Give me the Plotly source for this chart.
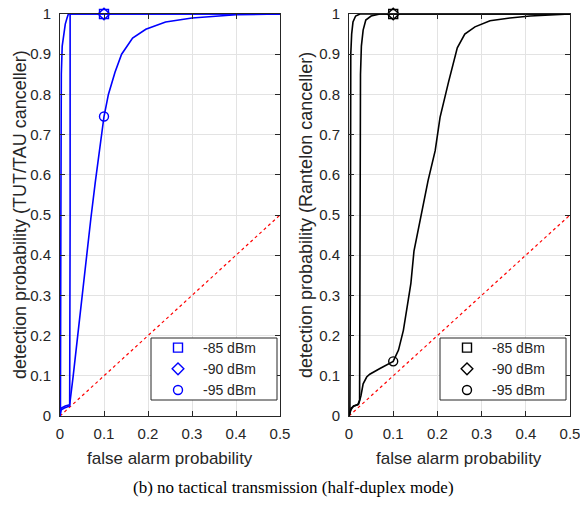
import plotly.graph_objects as go

# Left panel (TUT/TAU canceller)
left_x_85 = [0, 0.001, 0.002, 0.003, 0.005, 0.008, 0.012, 0.016, 0.019, 0.5]
left_y_85 = [0, 0.02, 0.5, 0.85, 0.92, 0.95, 0.975, 0.99, 1, 1]
left_x_90 = [0, 0.002, 0.01, 0.022, 0.023, 0.023, 0.5]
left_y_90 = [0, 0.015, 0.02, 0.025, 0.5, 1, 1]
left_x_95 = [0, 0.003, 0.012, 0.022, 0.03, 0.04, 0.05, 0.06, 0.07, 0.08, 0.09, 0.1,
             0.11, 0.125, 0.14, 0.165, 0.195, 0.24, 0.3, 0.4, 0.5]
left_y_95 = [0, 0.02, 0.025, 0.028, 0.1, 0.2, 0.3, 0.4, 0.49, 0.58, 0.67, 0.745,
             0.8, 0.855, 0.9, 0.94, 0.962, 0.98, 0.99, 0.998, 1]

# Right panel (Rantelon canceller)
right_x_85 = [0, 0.002, 0.003, 0.004, 0.006, 0.009, 0.015, 0.025, 0.5]
right_y_85 = [0, 0.01, 0.3, 0.9, 0.95, 0.98, 0.995, 1, 1]
right_x_90 = [0, 0.004, 0.01, 0.02, 0.024, 0.025, 0.026, 0.028, 0.032, 0.038, 0.05, 0.07, 0.5]
right_y_90 = [0, 0.015, 0.025, 0.028, 0.04, 0.5, 0.85, 0.92, 0.96, 0.985, 0.995, 1, 1]
right_x_95 = [0, 0.005, 0.012, 0.022, 0.027, 0.032, 0.04, 0.047, 0.07, 0.1, 0.112, 0.123,
              0.134, 0.14, 0.147, 0.161, 0.179, 0.195, 0.206, 0.225, 0.245, 0.262, 0.285,
              0.319, 0.364, 0.41, 0.5]
right_y_95 = [0, 0.02, 0.025, 0.03, 0.05, 0.08, 0.097, 0.104, 0.118, 0.136, 0.164, 0.213,
              0.288, 0.33, 0.41, 0.49, 0.586, 0.66, 0.743, 0.83, 0.916, 0.95, 0.968,
              0.983, 0.99, 0.995, 1]

# Markers at Pfa = 0.1
marker_x = 0.1
left_marks = [1, 1, 0.745]
right_marks = [1, 1, 0.136]
labels = ["-85 dBm", "-90 dBm", "-95 dBm"]
symbols = ["square-open", "diamond-open", "circle-open"]
diag = [0, 0.5]

# positions below are given in window pixels (body margin removed in the page)
W, H = 580, 507


def px(x):
    return x / W


def py(y):
    return (H - y) / H


fig = go.Figure()

panels = [
    ("x", "y", "legend", "blue", [(left_x_85, left_y_85), (left_x_90, left_y_90), (left_x_95, left_y_95)], left_marks),
    ("x2", "y2", "legend2", "black", [(right_x_85, right_y_85), (right_x_90, right_y_90), (right_x_95, right_y_95)], right_marks),
]

for xa, ya, lg, col, curves, marks in panels:
    fig.add_trace(go.Scatter(x=diag, y=diag, mode="lines", xaxis=xa, yaxis=ya,
                             line=dict(color="red", width=1.2, dash="dot"), showlegend=False))
    for cx, cy in curves:
        fig.add_trace(go.Scatter(x=cx, y=cy, mode="lines", xaxis=xa, yaxis=ya,
                                 line=dict(color=col, width=1.6), showlegend=False))
    for lab, sym, my in zip(labels, symbols, marks):
        fig.add_trace(go.Scatter(x=[marker_x], y=[my], mode="markers", name=lab, xaxis=xa, yaxis=ya,
                                 legend=lg, cliponaxis=False,
                                 marker=dict(symbol=sym, size=9, color=col, line=dict(width=1.4, color=col))))

axis_font = dict(family="Liberation Sans, Arial", size=15, color="#262626")
common = dict(range=[0, 0.5], dtick=0.1, showgrid=True, gridcolor="#e3e3e3", zeroline=False,
              showline=True, linecolor="#262626", linewidth=1, mirror="ticks", ticks="inside",
              ticklen=5, tickcolor="#262626", tickfont=axis_font, automargin=False,
              ticklabelstandoff=4, ticklabeloverflow="allow")
ycommon = dict(common, range=[0, 1], ticklabelstandoff=5)

leg_font = dict(family="Liberation Sans, Arial", size=14, color="#262626")
leg_common = dict(xanchor="left", yanchor="top", bgcolor="rgba(0,0,0,0)", borderwidth=0,
                  font=leg_font, itemwidth=40, tracegroupgap=0)
fig.update_layout(
    template="none",
    width=W, height=H,
    margin=dict(l=0, r=0, t=0, b=0, autoexpand=False),
    paper_bgcolor="white", plot_bgcolor="white",
    xaxis=dict(common, domain=[px(60), px(280)], anchor="y"),
    yaxis=dict(ycommon, domain=[py(416), py(14)], anchor="x"),
    xaxis2=dict(common, domain=[px(349), px(570)], anchor="y2"),
    yaxis2=dict(ycommon, domain=[py(416), py(14)], anchor="x2"),
    legend=dict(leg_common, x=px(153), y=py(332)),
    legend2=dict(leg_common, x=px(442), y=py(332)),
    font=dict(family="Liberation Sans, Arial", color="#262626"),
)

# legend frames
for x0, x1 in [(151, 277), (440, 566)]:
    fig.add_shape(type="rect", xref="paper", yref="paper", x0=px(x0), x1=px(x1), y0=py(400), y1=py(338),
                  line=dict(color="#262626", width=1), fillcolor="white", layer="above")

lab_font = dict(family="Liberation Sans, Arial", size=17, color="#262626")
ylab_font = dict(family="Liberation Sans, Arial", size=18, color="#262626")
fig.add_annotation(text="false alarm probability", x=px(170), y=py(458), xref="paper", yref="paper",
                   xanchor="center", yanchor="middle", showarrow=False, font=lab_font)
fig.add_annotation(text="false alarm probability", x=px(459), y=py(458), xref="paper", yref="paper",
                   xanchor="center", yanchor="middle", showarrow=False, font=lab_font)
fig.add_annotation(text="detection probability (TUT/TAU canceller)", x=px(20), y=py(215),
                   xref="paper", yref="paper", xanchor="center", yanchor="middle",
                   showarrow=False, textangle=-90, font=ylab_font)
fig.add_annotation(text="detection probability (Rantelon canceller)", x=px(306), y=py(215),
                   xref="paper", yref="paper", xanchor="center", yanchor="middle",
                   showarrow=False, textangle=-90, font=ylab_font)
fig.add_annotation(text="(b) no tactical transmission (half-duplex mode)", x=px(293), y=py(487),
                   xref="paper", yref="paper", xanchor="center", yanchor="middle", showarrow=False,
                   font=dict(family="Liberation Serif, Times New Roman", size=17, color="black"))

fig.write_html("out.html", config={"displayModeBar": False},
               post_script="document.body.style.margin = '0px';")
